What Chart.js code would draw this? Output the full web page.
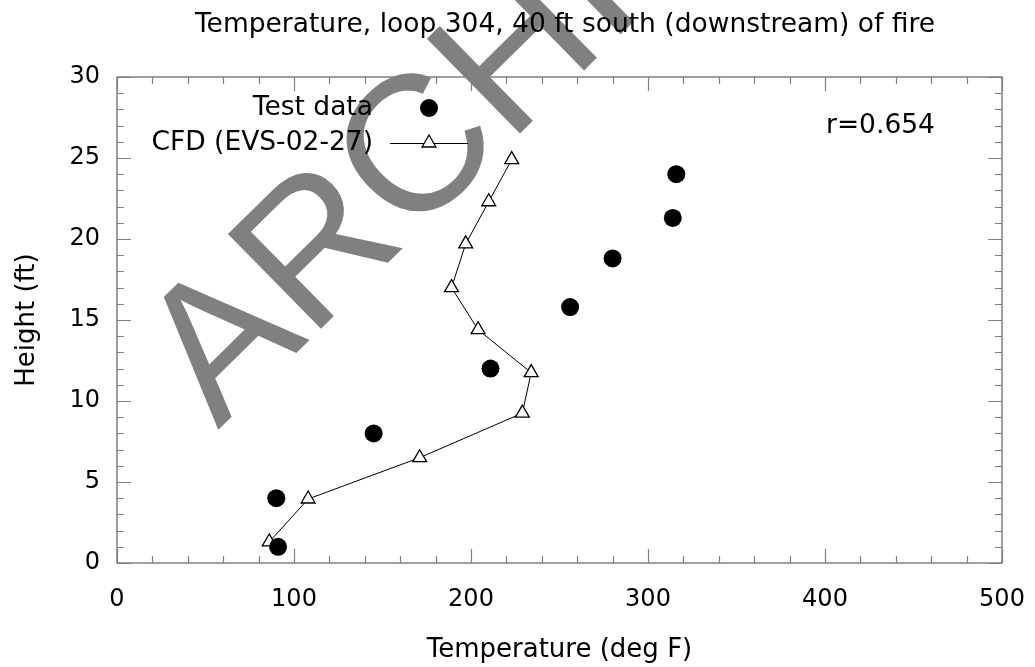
<!DOCTYPE html>
<html>
<head>
<meta charset="utf-8">
<script src="https://cdn.jsdelivr.net/npm/chart.js@4.4.1/dist/chart.umd.min.js"></script>
<style>
  html, body { margin: 0; background: #fff; }
  #wrap { width: 1035px; height: 667px; }
</style>
</head>
<body>
<div id="wrap"><canvas id="c"></canvas></div>
<script>
// values
const testTemp = [91, 90, 145, 211, 256, 280, 314, 316];
const testHeight = [1, 4, 8, 12, 15.8, 18.8, 21.3, 24];
const cfdTemp = [86, 108, 171, 229, 234, 204, 189, 197, 210, 223];
const cfdHeight = [1.3, 3.95, 6.5, 9.25, 11.75, 14.4, 17, 19.7, 22.3, 24.9];
const seriesNames = ['Test data', 'CFD (EVS-02-27)'];
const corrText = 'r=0.654';
const titleText = 'Temperature, loop 304, 40 ft south (downstream) of fire';
const xTitle = 'Temperature (deg F)';
const yTitle = 'Height (ft)';
const watermark = 'ARCHIVE';

const FONT = '"DejaVu Sans", sans-serif';
const FRAME = '#808080';

// frame + inward ticks, then the gray watermark over it, then the title text
const backdropPlugin = {
  id: 'backdrop',
  beforeDraw(chart) {
    const { ctx, chartArea: a, scales: { x, y } } = chart;
    ctx.save();
    ctx.strokeStyle = FRAME;
    ctx.lineWidth = 1.5;
    ctx.strokeRect(a.left, a.top, a.right - a.left, a.bottom - a.top);
    ctx.lineWidth = 1.2;
    ctx.beginPath();
    for (let v = 0; v <= 500; v += 20) {
      const px = Math.round(x.getPixelForValue(v)) + 0.5;
      const len = v % 100 === 0 ? 14 : 7;
      ctx.moveTo(px, a.bottom); ctx.lineTo(px, a.bottom - len);
      ctx.moveTo(px, a.top); ctx.lineTo(px, a.top + len);
    }
    for (let v = 0; v <= 30; v += 1) {
      const py = Math.round(y.getPixelForValue(v)) + 0.5;
      const len = v % 5 === 0 ? 14 : 7;
      ctx.moveTo(a.left, py); ctx.lineTo(a.left + len, py);
      ctx.moveTo(a.right, py); ctx.lineTo(a.right - len, py);
    }
    ctx.stroke();

    ctx.save();
    ctx.translate(218, 430);
    ctx.rotate(-44.5 * Math.PI / 180);
    ctx.font = '193px "Liberation Sans", sans-serif';
    ctx.fillStyle = '#808080';
    ctx.textBaseline = 'alphabetic';
    ctx.fillText(watermark, 0, 0);
    ctx.restore();

    ctx.font = '26.5px ' + FONT;
    ctx.fillStyle = '#000';
    ctx.textAlign = 'center';
    ctx.textBaseline = 'middle';
    ctx.fillText(titleText, 565, 25);
    ctx.restore();
  },
  afterDraw(chart) {
    const ctx = chart.ctx;
    const ds = chart.data.datasets;
    ctx.save();
    ctx.font = '26.5px ' + FONT;
    ctx.fillStyle = '#000';
    ctx.textAlign = 'right';
    ctx.textBaseline = 'middle';
    ctx.fillText(ds[0].label, 373, 108);
    ctx.fillText(ds[1].label, 373, 143);
    ctx.textAlign = 'left';
    ctx.fillText(corrText, 826, 126);

    ctx.strokeStyle = '#000';
    ctx.lineWidth = 1;
    ctx.beginPath();
    ctx.moveTo(390, 143.5); ctx.lineTo(468, 143.5);
    ctx.stroke();

    ctx.fillStyle = '#000';
    Chart.helpers.drawPoint(ctx, { pointStyle: 'circle', radius: 9, borderWidth: 0 }, 429, 108);
    ctx.fillStyle = '#fff';
    ctx.lineWidth = 1.3;
    Chart.helpers.drawPoint(ctx, { pointStyle: 'triangle', radius: 8, borderWidth: 1.3 }, 429, 143);
    ctx.restore();
  }
};

new Chart(document.getElementById('c'), {
  type: 'scatter',
  data: {
    datasets: [
      {
        label: seriesNames[0],
        data: testTemp.map((t, i) => ({ x: t, y: testHeight[i] })),
        pointStyle: 'circle',
        pointRadius: 9,
        backgroundColor: '#000',
        borderColor: '#000',
        borderWidth: 0,
        showLine: false,
      },
      {
        label: seriesNames[1],
        data: cfdTemp.map((t, i) => ({ x: t, y: cfdHeight[i] })),
        showLine: true,
        borderColor: '#000',
        borderWidth: 1,
        pointStyle: 'triangle',
        pointRadius: 8,
        pointBackgroundColor: '#fff',
        pointBorderColor: '#000',
        pointBorderWidth: 1.3,
      },
    ],
  },
  options: {
    responsive: true,
    maintainAspectRatio: false,
    animation: false,
    layout: { padding: { left: 8, right: 33, top: 77, bottom: 0 } },
    plugins: {
      legend: { display: false },
      tooltip: { enabled: false },
      title: { display: false },
    },
    scales: {
      x: {
        type: 'linear',
        min: 0,
        max: 500,
        grid: { display: false, drawTicks: false },
        border: { display: false },
        ticks: { stepSize: 100, color: '#000', padding: 22, font: { family: FONT, size: 24 } },
        title: {
          display: true, text: xTitle, color: '#000',
          font: { family: FONT, size: 26 }, padding: { top: 4, bottom: 1 },
        },
        afterFit(s) { s.height = 104; s.paddingLeft = 0; s.paddingRight = 0; },
      },
      y: {
        type: 'linear',
        min: 0,
        max: 30,
        grid: { display: false, drawTicks: false },
        border: { display: false },
        ticks: { stepSize: 5, color: '#000', padding: 17, font: { family: FONT, size: 24 } },
        title: {
          display: true, text: yTitle, color: '#000',
          font: { family: FONT, size: 26 }, padding: { top: 4, bottom: 4 },
        },
        afterFit(s) { s.width = 109; s.paddingTop = 0; s.paddingBottom = 0; },
      },
    },
  },
  plugins: [backdropPlugin],
});
</script>
</body>
</html>
